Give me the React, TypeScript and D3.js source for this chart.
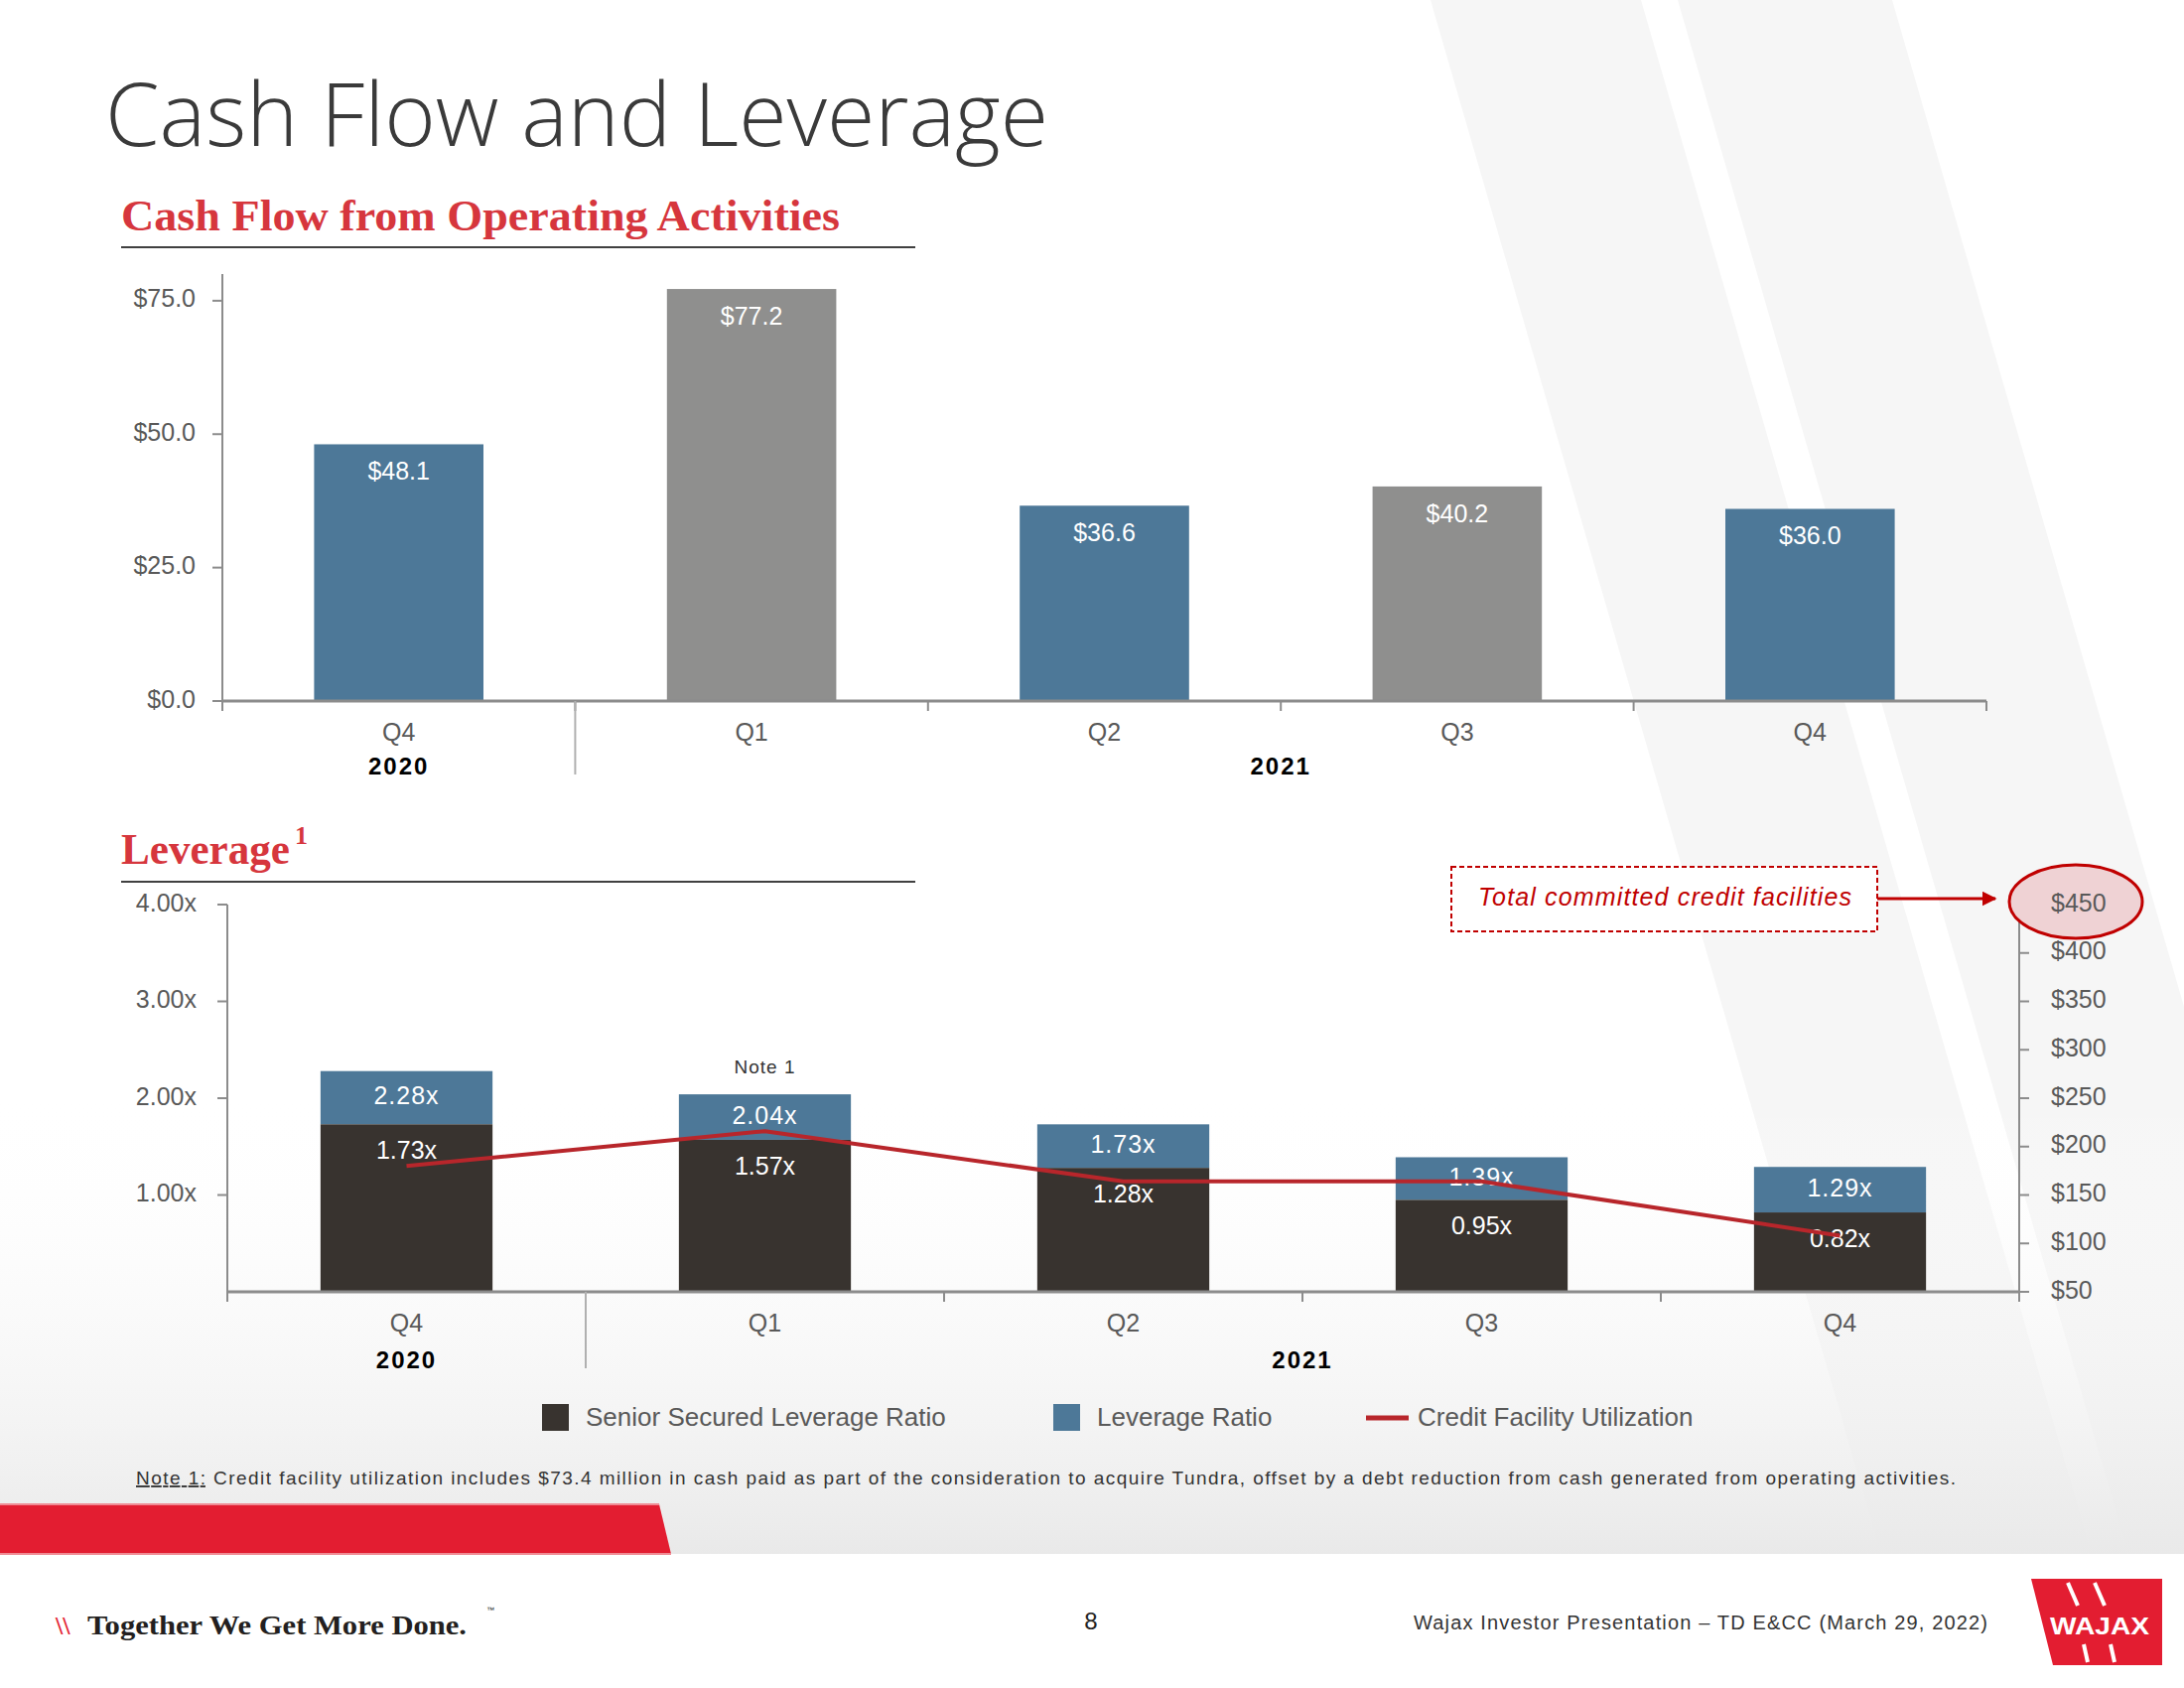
import React from "react";
import * as d3 from "d3";

// ---------- data ----------
const quarterLabels = ["Q4", "Q1", "Q2", "Q3", "Q4"];
const periodIds = ["2020-Q4", "2021-Q1", "2021-Q2", "2021-Q3", "2021-Q4"];
const cashFlow = [48.1, 77.2, 36.6, 40.2, 36.0];
const cashFlowTicks = [0, 25, 50, 75];
const leverageRatio = [2.28, 2.04, 1.73, 1.39, 1.29];
const seniorSecuredRatio = [1.73, 1.57, 1.28, 0.95, 0.82];
const creditUtilization = [180, 216, 164, 164, 108];
const leverageTicks = [1, 2, 3, 4];
const creditTicks = [50, 100, 150, 200, 250, 300, 350, 400, 450];
const yearGroups = [
  { year: "2020", from: 0, to: 0 },
  { year: "2021", from: 1, to: 4 },
];

// ---------- style ----------
const BLUE = "#4d7898";
const GRAY = "#8f8f8e";
const DARK = "#38332f";
const RED_LINE = "#b8262b";
const AXIS = "#8c8c8c";
const LABEL = "#595959";
const SANS = "'Liberation Sans', Arial, sans-serif";

export default function App() {
  const W = 2200;
  const H = 1700;

  // top chart scales
  const xTop = d3.scaleBand<string>().domain(periodIds).range([224, 2001]).paddingInner(0.52).paddingOuter(0.26);
  const yTop = d3.scaleLinear().domain([0, 80]).range([706, 276]);

  // bottom chart scales
  const xBot = d3.scaleBand<string>().domain(periodIds).range([229, 2034]).paddingInner(0.52).paddingOuter(0.26);
  const yLev = d3.scaleLinear().domain([0, 4]).range([1301, 911]);
  const yCred = d3.scaleLinear().domain([50, 450]).range([1301, 911]);

  const fmtMoney = d3.format("$.1f");
  const fmtX = (v: number) => d3.format(".2f")(v) + "x";

  const lineGen = d3
    .line<number>()
    .x((_, i) => (xBot(periodIds[i]) as number) + xBot.bandwidth() / 2)
    .y((d) => yCred(d));

  const stepTop = xTop.step();
  const stepBot = xBot.step();
  const topEdges = d3.range(periodIds.length + 1).map((i) => 224 + i * stepTop);
  const botEdges = d3.range(periodIds.length + 1).map((i) => 229 + i * stepBot);

  const stripeSlope = 0.29;
  const stripeBottom = 1565;
  const stripe = (a: number, b: number) =>
    `${a},0 ${b},0 ${b + stripeSlope * stripeBottom},${stripeBottom} ${a + stripeSlope * stripeBottom},${stripeBottom}`;

  return (
    <svg
      width={W}
      height={H}
      viewBox={`0 0 ${W} ${H}`}
      style={{ position: "absolute", left: 0, top: 0, background: "#fff" }}
    >
      <defs>
        <linearGradient id="bottomFade" x1="0" y1="0" x2="0" y2="1">
          <stop offset="0" stopColor="#ffffff" stopOpacity="0" />
          <stop offset="1" stopColor="#e9e9e9" stopOpacity="1" />
        </linearGradient>
        <marker id="arrowHead" viewBox="0 0 10 10" refX="9" refY="5" markerWidth="5" markerHeight="5" orient="auto">
          <path d="M0,0 L10,5 L0,10 z" fill="#c00000" />
        </marker>
      </defs>

      {/* background */}
      <rect x={0} y={0} width={W} height={H} fill="#ffffff" />
      <polygon points={stripe(1441, 1653)} fill="#f6f6f6" />
      <polygon points={stripe(1690, 1906)} fill="#f6f6f6" />
      <rect x={0} y={1100} width={W} height={465} fill="url(#bottomFade)" />

      {/* title */}
      <text x={106} y={147} fontFamily="'Open Sans', sans-serif" fontWeight={300} fontSize={88} fill="#3a3a3a">
        Cash Flow and Leverage
      </text>

      {/* section header: cash flow */}
      <text
        x={122}
        y={232}
        fontFamily="'Liberation Serif', 'DejaVu Serif', serif"
        fontWeight={700}
        fontSize={45}
        fill="#d6363d"
        textLength={724}
        lengthAdjust="spacingAndGlyphs"
      >
        Cash Flow from Operating Activities
      </text>
      <line x1={122} x2={922} y1={249} y2={249} stroke="#404040" strokeWidth={2} />

      {/* ---------- top chart ---------- */}
      {periodIds.map((id, i) => {
        const x = xTop(id) as number;
        const y = yTop(cashFlow[i]);
        return (
          <g key={id}>
            <rect x={x} y={y} width={xTop.bandwidth()} height={yTop(0) - y} fill={i % 2 === 0 ? BLUE : GRAY} />
            <text
              x={x + xTop.bandwidth() / 2}
              y={y + 29}
              dominantBaseline="middle"
              textAnchor="middle"
              fontFamily={SANS}
              fontSize={25}
              fill="#ffffff"
            >
              {fmtMoney(cashFlow[i])}
            </text>
            <text
              x={x + xTop.bandwidth() / 2}
              y={739}
              dominantBaseline="middle"
              textAnchor="middle"
              fontFamily={SANS}
              fontSize={25}
              fill={LABEL}
            >
              {quarterLabels[i]}
            </text>
          </g>
        );
      })}
      {/* y axis */}
      <line x1={224} x2={224} y1={yTop(80)} y2={yTop(0) + 10} stroke={AXIS} strokeWidth={2} />
      {cashFlowTicks.map((t) => (
        <g key={t}>
          <line x1={214} x2={224} y1={yTop(t)} y2={yTop(t)} stroke={AXIS} strokeWidth={2} />
          <text x={197} y={yTop(t)} dominantBaseline="middle" textAnchor="end" fontFamily={SANS} fontSize={25} fill={LABEL}>
            {fmtMoney(t)}
          </text>
        </g>
      ))}
      {/* x axis */}
      <line x1={224} x2={2001} y1={yTop(0)} y2={yTop(0)} stroke={AXIS} strokeWidth={3} />
      {topEdges.map((e, i) => (
        <line key={i} x1={e} x2={e} y1={yTop(0)} y2={yTop(0) + 10} stroke={AXIS} strokeWidth={2} />
      ))}
      <line x1={topEdges[1]} x2={topEdges[1]} y1={yTop(0)} y2={780} stroke="#b0b0b0" strokeWidth={2} />
      {yearGroups.map((g) => (
        <text
          key={g.year}
          x={(topEdges[g.from] + topEdges[g.to + 1]) / 2}
          y={774}
          dominantBaseline="middle"
          textAnchor="middle"
          fontFamily={SANS}
          fontWeight={700}
          fontSize={24}
          letterSpacing={2}
          fill="#000"
        >
          {g.year}
        </text>
      ))}

      {/* section header: leverage */}
      <text
        x={122}
        y={870}
        fontFamily="'Liberation Serif', 'DejaVu Serif', serif"
        fontWeight={700}
        fontSize={45}
        fill="#d6363d"
        textLength={170}
        lengthAdjust="spacingAndGlyphs"
      >
        Leverage
      </text>
      <text x={297} y={850} fontFamily="'Liberation Serif', 'DejaVu Serif', serif" fontWeight={700} fontSize={26} fill="#d6363d">
        1
      </text>
      <line x1={122} x2={922} y1={888} y2={888} stroke="#404040" strokeWidth={2} />

      {/* ---------- bottom chart ---------- */}
      {periodIds.map((id, i) => {
        const x = xBot(id) as number;
        const cx = x + xBot.bandwidth() / 2;
        const yL = yLev(leverageRatio[i]);
        const yS = yLev(seniorSecuredRatio[i]);
        return (
          <g key={id}>
            <rect x={x} y={yL} width={xBot.bandwidth()} height={yS - yL} fill={BLUE} />
            <rect x={x} y={yS} width={xBot.bandwidth()} height={yLev(0) - yS} fill={DARK} />
            <text
              x={cx}
              y={(yL + yS) / 2}
              dominantBaseline="middle"
              textAnchor="middle"
              fontFamily={SANS}
              fontSize={25}
              letterSpacing={1}
              fill="#ffffff"
            >
              {fmtX(leverageRatio[i])}
            </text>
            <text
              x={cx}
              y={yS + 28}
              dominantBaseline="middle"
              textAnchor="middle"
              fontFamily={SANS}
              fontSize={25}
              fill="#ffffff"
            >
              {fmtX(seniorSecuredRatio[i])}
            </text>
            <text
              x={cx}
              y={1334}
              dominantBaseline="middle"
              textAnchor="middle"
              fontFamily={SANS}
              fontSize={25}
              fill={LABEL}
            >
              {quarterLabels[i]}
            </text>
          </g>
        );
      })}
      {/* Note 1 above Q1 */}
      <text
        x={(xBot(periodIds[1]) as number) + xBot.bandwidth() / 2}
        y={1076}
        dominantBaseline="middle"
        textAnchor="middle"
        fontFamily={SANS}
        fontSize={19}
        letterSpacing={1}
        fill="#333"
      >
        Note 1
      </text>

      {/* credit utilization line */}
      <path d={lineGen(creditUtilization) || ""} fill="none" stroke={RED_LINE} strokeWidth={4} strokeLinejoin="round" />

      {/* left y axis */}
      <line x1={229} x2={229} y1={yLev(4)} y2={yLev(0) + 10} stroke={AXIS} strokeWidth={2} />
      {leverageTicks.map((t) => (
        <g key={t}>
          <line x1={219} x2={229} y1={yLev(t)} y2={yLev(t)} stroke={AXIS} strokeWidth={2} />
          <text x={198} y={yLev(t)} dominantBaseline="middle" textAnchor="end" fontFamily={SANS} fontSize={25} fill={LABEL}>
            {fmtX(t)}
          </text>
        </g>
      ))}
      {/* right y axis */}
      <line x1={2034} x2={2034} y1={yCred(450)} y2={yCred(50) + 10} stroke={AXIS} strokeWidth={2} />
      {creditTicks.map((t) => (
        <g key={t}>
          <line x1={2034} x2={2044} y1={yCred(t)} y2={yCred(t)} stroke={AXIS} strokeWidth={2} />
        </g>
      ))}
      {/* highlight ellipse */}
      <ellipse cx={2091} cy={yCred(450) - 3} rx={67} ry={37} fill="#efd2d4" stroke="#c00000" strokeWidth={3} />
      {creditTicks.map((t) => (
        <text key={t} x={2066} y={yCred(t)} dominantBaseline="middle" textAnchor="start" fontFamily={SANS} fontSize={25} fill={LABEL}>
          {"$" + t}
        </text>
      ))}
      {/* bottom x axis */}
      <line x1={229} x2={2034} y1={yLev(0)} y2={yLev(0)} stroke={AXIS} strokeWidth={3} />
      {botEdges.map((e, i) => (
        <line key={i} x1={e} x2={e} y1={yLev(0)} y2={yLev(0) + 10} stroke={AXIS} strokeWidth={2} />
      ))}
      <line x1={botEdges[1]} x2={botEdges[1]} y1={yLev(0)} y2={1378} stroke="#b0b0b0" strokeWidth={2} />
      {yearGroups.map((g) => (
        <text
          key={g.year}
          x={(botEdges[g.from] + botEdges[g.to + 1]) / 2}
          y={1372}
          dominantBaseline="middle"
          textAnchor="middle"
          fontFamily={SANS}
          fontWeight={700}
          fontSize={24}
          letterSpacing={2}
          fill="#000"
        >
          {g.year}
        </text>
      ))}

      {/* annotation */}
      <rect x={1462} y={873} width={429} height={65} fill="#ffffff" stroke="#c00000" strokeWidth={2} strokeDasharray="5,3" />
      <text
        x={1677}
        y={905}
        dominantBaseline="middle"
        textAnchor="middle"
        fontFamily={SANS}
        fontStyle="italic"
        fontSize={25}
        fill="#c00000"
        textLength={376}
        lengthAdjust="spacing"
      >
        Total committed credit facilities
      </text>
      <line x1={1891} x2={2010} y1={905} y2={905} stroke="#c00000" strokeWidth={3} markerEnd="url(#arrowHead)" />

      {/* legend */}
      <rect x={546} y={1414} width={27} height={27} fill={DARK} />
      <text x={590} y={1429} dominantBaseline="middle" fontFamily={SANS} fontSize={26} fill={LABEL}>
        Senior Secured Leverage Ratio
      </text>
      <rect x={1061} y={1414} width={27} height={27} fill={BLUE} />
      <text x={1105} y={1429} dominantBaseline="middle" fontFamily={SANS} fontSize={26} fill={LABEL}>
        Leverage Ratio
      </text>
      <line x1={1376} x2={1419} y1={1428} y2={1428} stroke={RED_LINE} strokeWidth={5} />
      <text x={1428} y={1429} dominantBaseline="middle" fontFamily={SANS} fontSize={26} fill={LABEL}>
        Credit Facility Utilization
      </text>

      {/* footnote */}
      <text x={137} y={1495} fontFamily={SANS} fontSize={19} fill="#333" textLength={1833} lengthAdjust="spacing">
        <tspan textDecoration="underline">Note 1:</tspan>
        {" Credit facility utilization includes $73.4 million in cash paid as part of the consideration to acquire Tundra, offset by a debt reduction from cash generated from operating activities."}
      </text>

      {/* red band */}
      <polygon points="0,1515 664,1515 676,1565 0,1565" fill="#e31d31" />
      <line x1={0} x2={664} y1={1515} y2={1515} stroke="#f08c95" strokeWidth={2} />
      <line x1={0} x2={676} y1={1565} y2={1565} stroke="#f08c95" strokeWidth={2} />
      <rect x={0} y={1566} width={W} height={134} fill="#ffffff" />

      {/* footer */}
      <text x={56} y={1646} fontFamily="'Liberation Serif', serif" fontWeight={700} fontSize={26} fill="#e31d31">
        \\
      </text>
      <text
        x={88}
        y={1646}
        fontFamily="'Liberation Serif', serif"
        fontWeight={700}
        fontSize={28}
        fill="#231f20"
        textLength={382}
        lengthAdjust="spacingAndGlyphs"
      >
        Together We Get More Done.
      </text>
      <text x={490} y={1624} fontFamily={SANS} fontSize={8} fill="#231f20">™</text>
      <text x={1099} y={1641} textAnchor="middle" fontFamily={SANS} fontSize={24} fill="#222">
        8
      </text>
      <text x={1424} y={1641} fontFamily={SANS} fontSize={20} fill="#333" textLength={578} lengthAdjust="spacing">
        Wajax Investor Presentation – TD E&amp;CC (March 29, 2022)
      </text>

      {/* logo */}
      <polygon points="2046,1590 2178,1590 2178,1677 2068,1677" fill="#e31d31" />
      <line x1={2083} x2={2093} y1={1594} y2={1617} stroke="#fff" strokeWidth={4} />
      <line x1={2110} x2={2120} y1={1594} y2={1617} stroke="#fff" strokeWidth={4} />
      <line x1={2099} x2={2103} y1={1656} y2={1674} stroke="#fff" strokeWidth={4} />
      <line x1={2126} x2={2130} y1={1656} y2={1674} stroke="#fff" strokeWidth={4} />
      <text
        x={2115}
        y={1646}
        textAnchor="middle"
        fontFamily={SANS}
        fontWeight={700}
        fontSize={24}
        fill="#fff"
        textLength={100}
        lengthAdjust="spacingAndGlyphs"
      >
        WAJAX
      </text>
    </svg>
  );
}
